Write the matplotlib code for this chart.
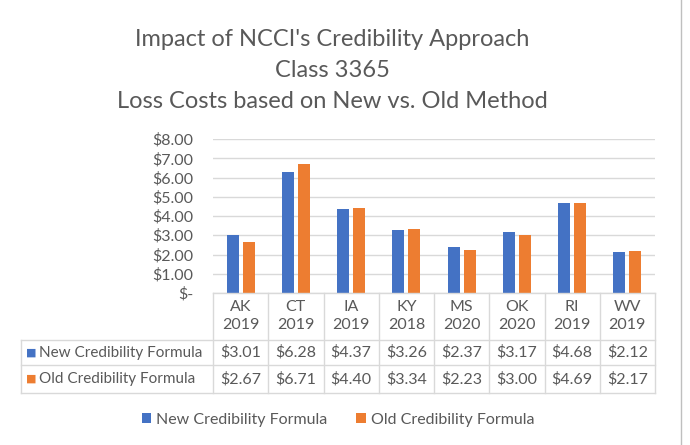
import numpy as np
import matplotlib
matplotlib.use('Agg')
import matplotlib.pyplot as plt
import matplotlib.transforms as mtransforms
from matplotlib.lines import Line2D

plt.rcParams['font.family'] = ['Lato', 'DejaVu Sans']

states = ['AK', 'CT', 'IA', 'KY', 'MS', 'OK', 'RI', 'WV']
years = ['2019', '2019', '2019', '2018', '2020', '2020', '2019', '2019']
new_vals = [3.01, 6.28, 4.37, 3.26, 2.37, 3.17, 4.68, 2.12]
old_vals = [2.67, 6.71, 4.40, 3.34, 2.23, 3.00, 4.69, 2.17]
series_names = ['New Credibility Formula', 'Old Credibility Formula']
colors = ['#4472C4', '#ED7D31']
title_lines = ["Impact of NCCI's Credibility Approach", 'Class 3365',
               'Loss Costs based on New vs. Old Method']

W, H = 690, 445
txt = '#595959'
grid = '#D9D9D9'


def fx(px):
    return px / W


def fy(py):
    return 1 - py / H


fig = plt.figure(figsize=(W / 100, H / 100), dpi=100)
ax = fig.add_axes([fx(213), fy(293), fx(655) - fx(213), fy(139) - fy(293)])

x = np.arange(len(states))
bw = 0.22
b1 = ax.bar(x - 0.145, new_vals, bw, color=colors[0], label=series_names[0])
b2 = ax.bar(x + 0.145, old_vals, bw, color=colors[1], label=series_names[1])

ax.set_xlim(-0.5, len(states) - 0.5)
ax.set_ylim(0, 8)
ax.set_yticks(range(9))
ax.set_yticklabels(['$-'] + ['$%d.00' % v for v in range(1, 9)])
ax.yaxis.grid(True, color=grid, linewidth=1)
ax.set_axisbelow(True)
for s in ['top', 'right', 'left', 'bottom']:
    ax.spines[s].set_visible(False)
ax.tick_params(axis='y', length=0, labelsize=11.5, labelcolor=txt, pad=14)
ax.tick_params(axis='x', length=0, labelbottom=False)

# title
for i, t in enumerate(title_lines):
    fig.text(fx(332), fy(40 + 30.5 * i), t, ha='center', va='center',
             fontsize=17, color=txt)

# data table below the axis
tr = mtransforms.blended_transform_factory(ax.transData, fig.transFigure)
rows_y = [293, 340, 365, 393]
line_kw = dict(color=grid, linewidth=1)
fig.add_artist(Line2D([-0.5, len(states) - 0.5], [fy(rows_y[0])] * 2, transform=tr, **line_kw))
for py in rows_y[1:]:
    fig.add_artist(Line2D([fx(21), fx(655)], [fy(py)] * 2, transform=fig.transFigure, **line_kw))
for i in range(len(states) + 1):
    fig.add_artist(Line2D([i - 0.5] * 2, [fy(rows_y[0]), fy(rows_y[-1])], transform=tr, **line_kw))
fig.add_artist(Line2D([fx(21)] * 2, [fy(rows_y[1]), fy(rows_y[-1])], transform=fig.transFigure, **line_kw))

for i, (st, yr) in enumerate(zip(states, years)):
    fig.text(i, fy(316), st + '\n' + yr, transform=tr, ha='center', va='center',
             fontsize=11.5, color=txt, linespacing=1.3)
    fig.text(i, fy(352.5), '$%.2f' % new_vals[i], transform=tr, ha='center',
             va='center', fontsize=11.5, color=txt)
    fig.text(i, fy(379), '$%.2f' % old_vals[i], transform=tr, ha='center',
             va='center', fontsize=11.5, color=txt)

for name, col, py in zip(series_names, colors, [352.5, 379]):
    fig.text(fx(26), fy(py), '\u25A0', ha='left', va='center', fontsize=8,
             color=col, family=['DejaVu Sans'])
    fig.text(fx(39), fy(py), name, ha='left', va='center', fontsize=11, color=txt)

# legend
leg = fig.legend(handles=[b1, b2], labels=series_names, loc='center',
                 bbox_to_anchor=(fx(338), fy(420)), ncol=2, frameon=False,
                 fontsize=11.5, handlelength=0.6, handleheight=0.6,
                 handletextpad=0.3, columnspacing=1.8, labelcolor=txt)

# frame line on right
fig.add_artist(Line2D([fx(681)] * 2, [0, 1], transform=fig.transFigure,
                      color='#BFBFBF', linewidth=1))

plt.savefig('out.png', dpi=100)
